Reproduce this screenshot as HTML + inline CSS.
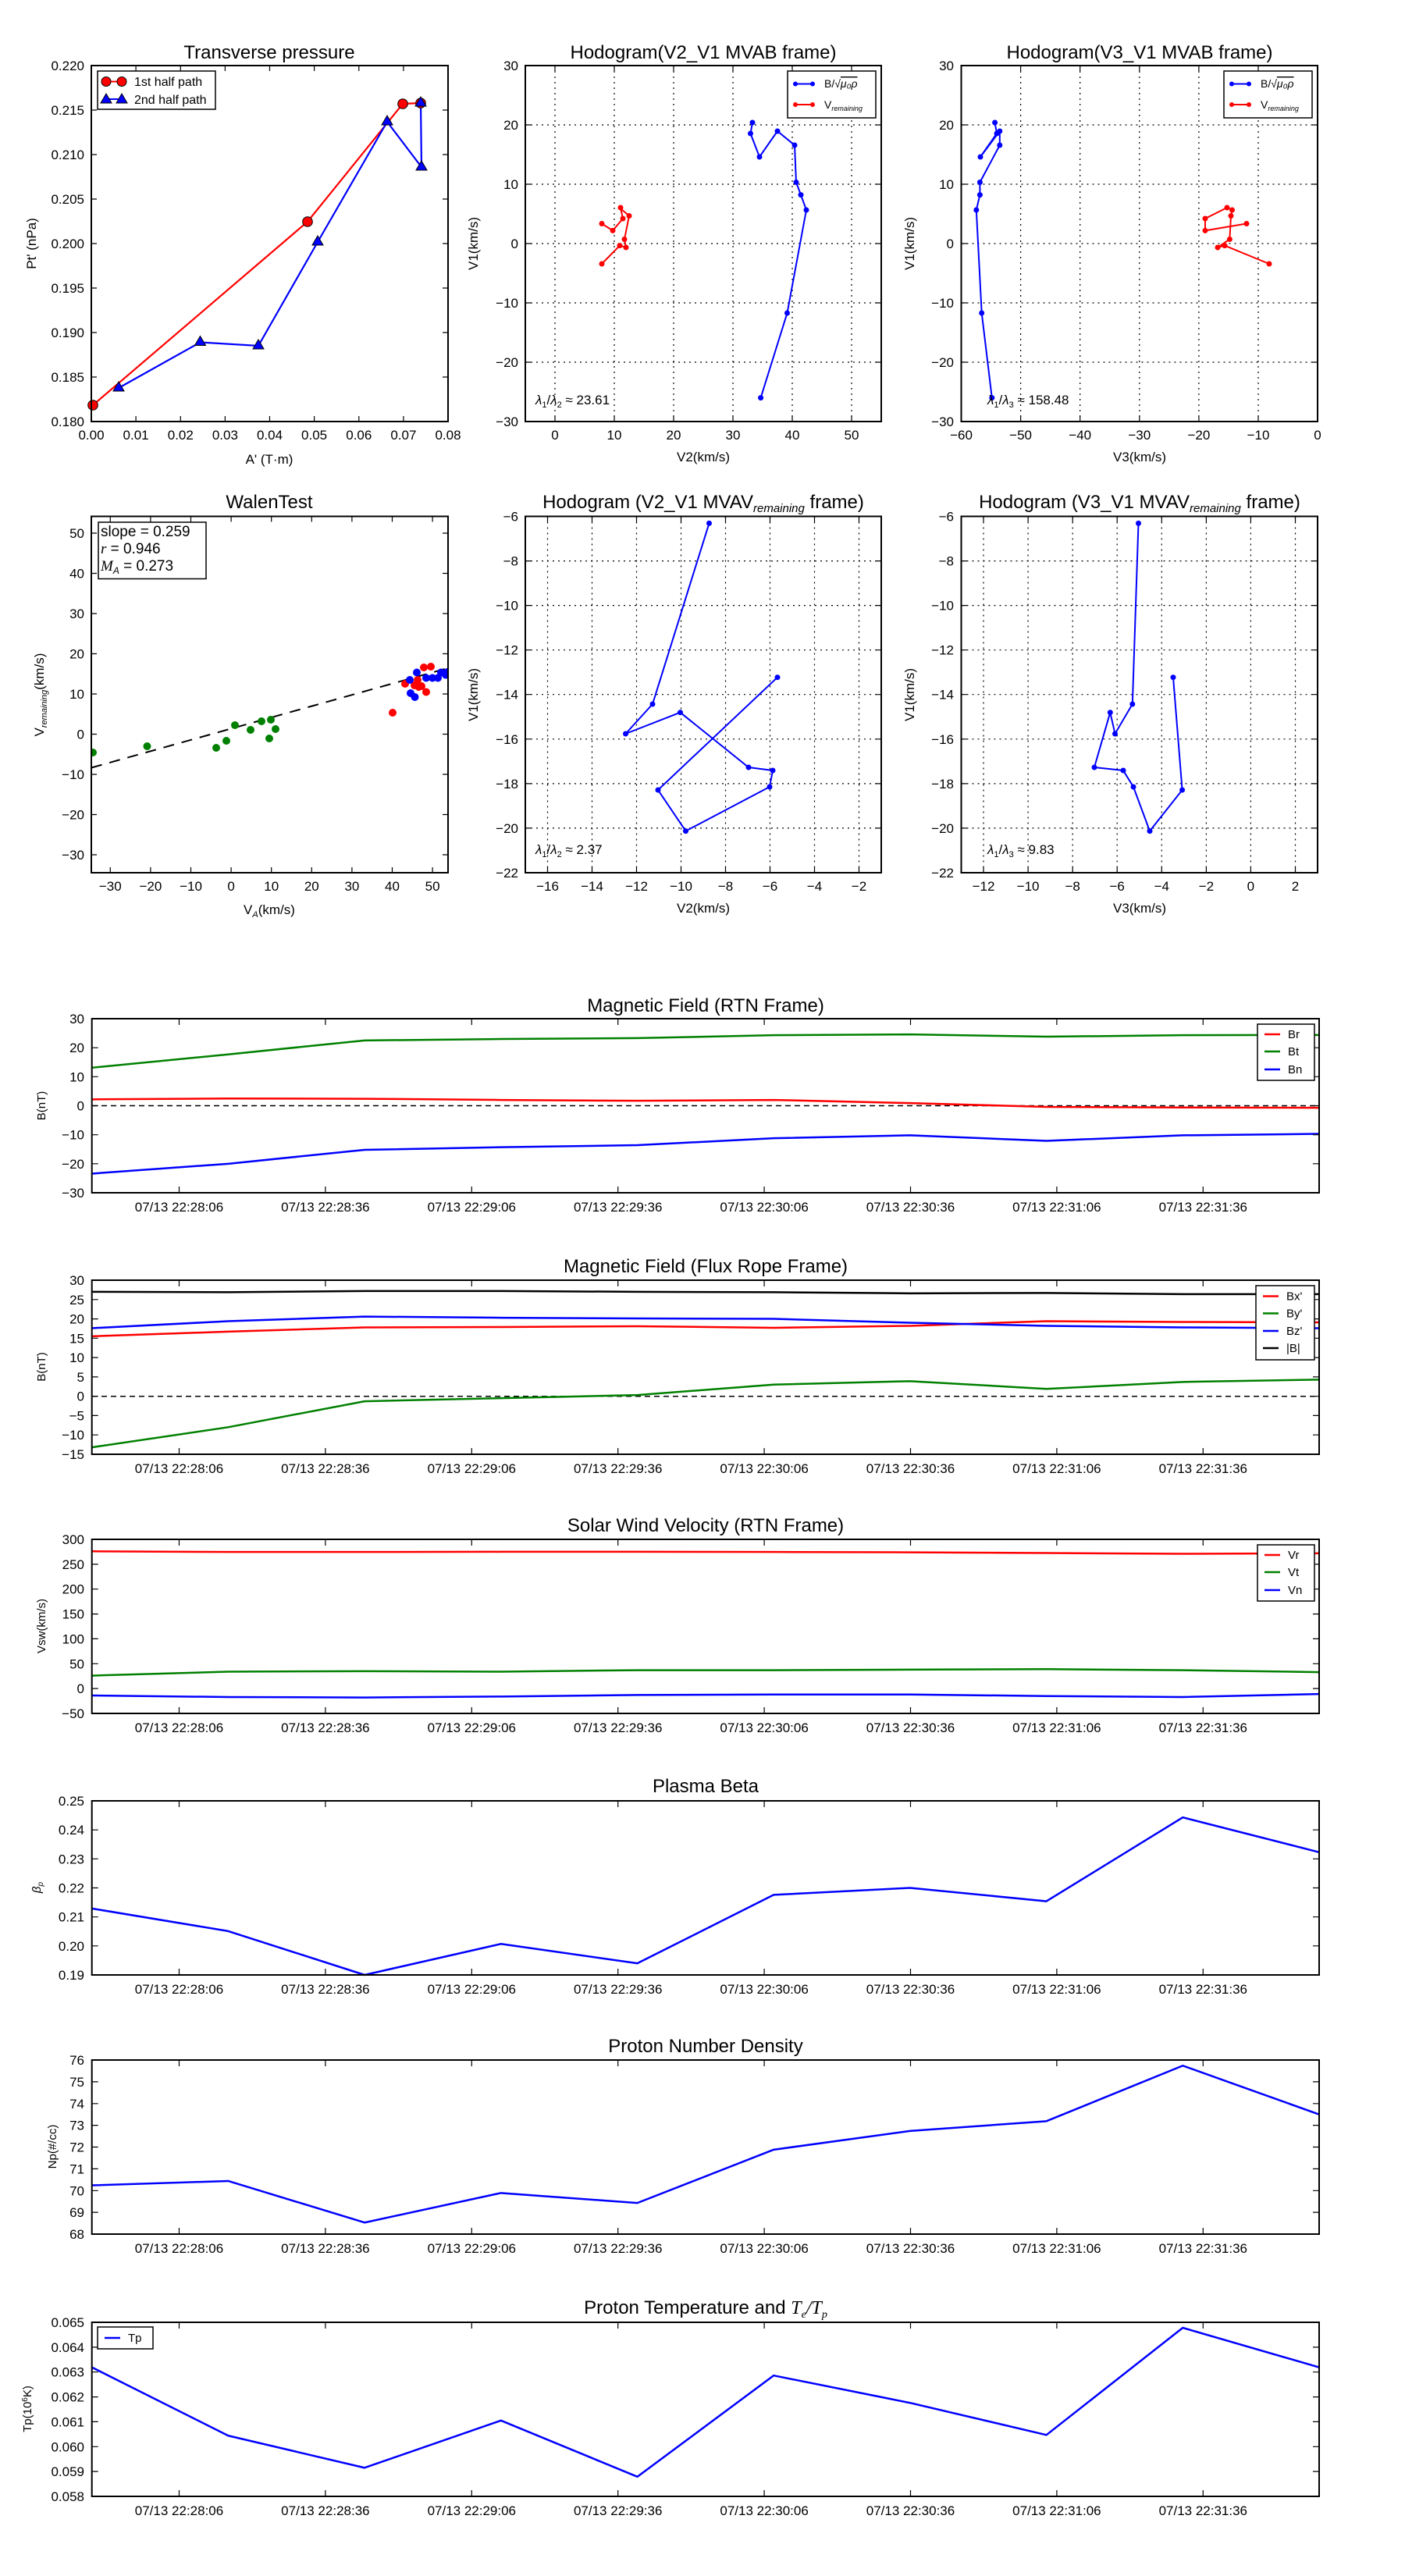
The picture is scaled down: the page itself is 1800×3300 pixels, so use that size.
<!DOCTYPE html>
<html><head><meta charset="utf-8"><style>
html,body{margin:0;padding:0;background:#fff;}
svg{display:block;font-family:"Liberation Sans","DejaVu Sans",sans-serif;}
.t{font-size:17px;fill:#000}
.ti{font-size:24px;fill:#000}
.lb{font-size:17px;fill:#000}
.ax{fill:none;stroke:#000;stroke-width:2}
.tk{fill:none;stroke:#000;stroke-width:1.2}
.gr{fill:none;stroke:#000;stroke-width:1.2;stroke-dasharray:2,5}
.ln{fill:none;stroke-width:2.5;vector-effect:non-scaling-stroke;stroke-linejoin:round}
</style></head><body>
<svg width="1800" height="3300" viewBox="0 0 1800 3300" xmlns="http://www.w3.org/2000/svg">
<rect width="1800" height="3300" fill="#fff"/>

<!-- ============ Transverse pressure ============ -->
<text class="ti" x="345" y="75" text-anchor="middle">Transverse pressure</text>
<polyline points="119,519 394,284 516,133 539,132" fill="none" stroke="#f00" stroke-width="2.2"/>
<polyline points="152,497 256.5,438.5 331,443 407,310 496,156 540,214 539,132" fill="none" stroke="#00f" stroke-width="2.2"/>
<g fill="#f00" stroke="#000" stroke-width="1">
<circle cx="119" cy="519" r="6.3"/><circle cx="394" cy="284" r="6.3"/><circle cx="516" cy="133" r="6.3"/><circle cx="539" cy="132" r="6.3"/>
</g>
<g fill="#00f" stroke="#000" stroke-width="1">
<path d="M152 489l7 12h-14z"/><path d="M256.5 430.5l7 12h-14z"/><path d="M331 435l7 12h-14z"/><path d="M407 302l7 12h-14z"/><path d="M496 148l7 12h-14z"/><path d="M540 206l7 12h-14z"/><path d="M539 124l7 12h-14z"/>
</g>
<rect class="ax" x="117" y="84" width="457" height="456"/>
<path class="tk" d="M174.1 540v-7M231.3 540v-7M288.4 540v-7M345.5 540v-7M402.6 540v-7M459.8 540v-7M516.9 540v-7M174.1 84v7M231.3 84v7M288.4 84v7M345.5 84v7M402.6 84v7M459.8 84v7M516.9 84v7M117 483h7M117 426h7M117 369h7M117 312h7M117 255h7M117 198h7M117 141h7M574 483h-7M574 426h-7M574 369h-7M574 312h-7M574 255h-7M574 198h-7M574 141h-7"/>
<g class="t" text-anchor="end">
<text x="108" y="546">0.180</text><text x="108" y="489">0.185</text><text x="108" y="432">0.190</text><text x="108" y="375">0.195</text><text x="108" y="318">0.200</text><text x="108" y="261">0.205</text><text x="108" y="204">0.210</text><text x="108" y="147">0.215</text><text x="108" y="90">0.220</text>
</g>
<g class="t" text-anchor="middle">
<text x="117" y="563">0.00</text><text x="174.1" y="563">0.01</text><text x="231.3" y="563">0.02</text><text x="288.4" y="563">0.03</text><text x="345.5" y="563">0.04</text><text x="402.6" y="563">0.05</text><text x="459.8" y="563">0.06</text><text x="516.9" y="563">0.07</text><text x="574" y="563">0.08</text>
</g>
<text class="lb" x="345" y="594" text-anchor="middle">A' (T·m)</text>
<text class="lb" transform="translate(46,312) rotate(-90)" text-anchor="middle">Pt' (nPa)</text>
<rect x="125" y="91" width="151" height="49" fill="#fff" stroke="#000" stroke-width="1.5"/>
<line x1="136" y1="104.5" x2="156" y2="104.5" stroke="#f00" stroke-width="2"/>
<circle cx="136" cy="104.5" r="6" fill="#f00" stroke="#000"/><circle cx="156" cy="104.5" r="6" fill="#f00" stroke="#000"/>
<line x1="136" y1="127" x2="156" y2="127" stroke="#00f" stroke-width="2"/>
<path d="M136 120l7 12h-14z M156 120l7 12h-14z" fill="#00f" stroke="#000"/>
<text x="172" y="110" style="font-size:16px">1st half path</text>
<text x="172" y="133" style="font-size:16px">2nd half path</text>

<!-- ============ Hodogram V2_V1 MVAB ============ -->
<text class="ti" x="901" y="75" text-anchor="middle">Hodogram(V2_V1 MVAB frame)</text>
<path class="gr" d="M711 84V540M787 84V540M863 84V540M939 84V540M1015 84V540M1091 84V540M673 160H1129M673 236H1129M673 312H1129M673 388H1129M673 464H1129"/>
<polyline points="964,157 961.5,171 973,201 996,168 1018,186 1020,233.5 1026,249.6 1033,269 1008.5,401 974.6,509.6" fill="none" stroke="#00f" stroke-width="2"/>
<g fill="#00f"><circle cx="964" cy="157" r="3.5"/><circle cx="961.5" cy="171" r="3.5"/><circle cx="973" cy="201" r="3.5"/><circle cx="996" cy="168" r="3.5"/><circle cx="1018" cy="186" r="3.5"/><circle cx="1020" cy="233.5" r="3.5"/><circle cx="1026" cy="249.6" r="3.5"/><circle cx="1033" cy="269" r="3.5"/><circle cx="1008.5" cy="401" r="3.5"/><circle cx="974.6" cy="509.6" r="3.5"/></g>
<polyline points="771,286.5 785,295.4 798,280 795,266 796,268 806,276.5 800,306.5 802,317 794,314.6 771,338" fill="none" stroke="#f00" stroke-width="2"/>
<g fill="#f00"><circle cx="771" cy="286.5" r="3.5"/><circle cx="785" cy="295.4" r="3.5"/><circle cx="798" cy="280" r="3.5"/><circle cx="795" cy="266" r="3.5"/><circle cx="806" cy="276.5" r="3.5"/><circle cx="800" cy="306.5" r="3.5"/><circle cx="802" cy="317" r="3.5"/><circle cx="794" cy="314.6" r="3.5"/><circle cx="771" cy="338" r="3.5"/></g>
<rect class="ax" x="673" y="84" width="456" height="456"/>
<path class="tk" d="M711 540v-7M787 540v-7M863 540v-7M939 540v-7M1015 540v-7M1091 540v-7M711 84v7M787 84v7M863 84v7M939 84v7M1015 84v7M1091 84v7M673 160h7M673 236h7M673 312h7M673 388h7M673 464h7M1129 160h-7M1129 236h-7M1129 312h-7M1129 388h-7M1129 464h-7"/>
<g class="t" text-anchor="end"><text x="664" y="90">30</text><text x="664" y="166">20</text><text x="664" y="242">10</text><text x="664" y="318">0</text><text x="664" y="394">−10</text><text x="664" y="470">−20</text><text x="664" y="546">−30</text></g>
<g class="t" text-anchor="middle"><text x="711" y="563">0</text><text x="787" y="563">10</text><text x="863" y="563">20</text><text x="939" y="563">30</text><text x="1015" y="563">40</text><text x="1091" y="563">50</text></g>
<text class="lb" x="901" y="591" text-anchor="middle">V2(km/s)</text>
<text class="lb" transform="translate(612,312) rotate(-90)" text-anchor="middle">V1(km/s)</text>
<text x="686" y="518" style="font-size:17px"><tspan font-style="italic">λ</tspan><tspan font-size="11" dy="4">1</tspan><tspan dy="-4">/</tspan><tspan font-style="italic">λ</tspan><tspan font-size="11" dy="4">2</tspan><tspan dy="-4"> ≈ 23.61</tspan></text>
<rect x="1009" y="91" width="113" height="60" fill="#fff" stroke="#000" stroke-width="1.5"/>
<line x1="1019" y1="107.5" x2="1041" y2="107.5" stroke="#00f" stroke-width="2"/><circle cx="1019" cy="107.5" r="3" fill="#00f"/><circle cx="1041" cy="107.5" r="3" fill="#00f"/>
<line x1="1019" y1="134" x2="1041" y2="134" stroke="#f00" stroke-width="2"/><circle cx="1019" cy="134" r="3" fill="#f00"/><circle cx="1041" cy="134" r="3" fill="#f00"/>
<text x="1056" y="112" style="font-size:14px">B/√<tspan font-style="italic" text-decoration="overline">μ₀ρ</tspan></text>
<text x="1056" y="139" style="font-size:14px">V<tspan font-size="9" font-style="italic" dy="3">remaining</tspan></text>

<!-- ============ Hodogram V3_V1 MVAB ============ -->
<text class="ti" x="1460" y="75" text-anchor="middle">Hodogram(V3_V1 MVAB frame)</text>
<path class="gr" d="M1307.6 84V540M1383.7 84V540M1459.8 84V540M1535.9 84V540M1612 84V540M1231.5 160H1688M1231.5 236H1688M1231.5 312H1688M1231.5 388H1688M1231.5 464H1688"/>
<polyline points="1274.6,157 1277,171 1256,201 1280.8,168 1280.8,186 1255.4,233.5 1255.4,249.6 1250.8,269 1257.7,401 1270.8,509.6" fill="none" stroke="#00f" stroke-width="2"/>
<g fill="#00f"><circle cx="1274.6" cy="157" r="3.5"/><circle cx="1277" cy="171" r="3.5"/><circle cx="1256" cy="201" r="3.5"/><circle cx="1280.8" cy="168" r="3.5"/><circle cx="1280.8" cy="186" r="3.5"/><circle cx="1255.4" cy="233.5" r="3.5"/><circle cx="1255.4" cy="249.6" r="3.5"/><circle cx="1250.8" cy="269" r="3.5"/><circle cx="1257.7" cy="401" r="3.5"/><circle cx="1270.8" cy="509.6" r="3.5"/></g>
<polyline points="1597,286.5 1544,295.4 1544,280 1572,266 1578.5,269 1577,276.5 1575.4,306.5 1560,317 1569,314.6 1626,338" fill="none" stroke="#f00" stroke-width="2"/>
<g fill="#f00"><circle cx="1597" cy="286.5" r="3.5"/><circle cx="1544" cy="295.4" r="3.5"/><circle cx="1544" cy="280" r="3.5"/><circle cx="1572" cy="266" r="3.5"/><circle cx="1578.5" cy="269" r="3.5"/><circle cx="1577" cy="276.5" r="3.5"/><circle cx="1575.4" cy="306.5" r="3.5"/><circle cx="1560" cy="317" r="3.5"/><circle cx="1569" cy="314.6" r="3.5"/><circle cx="1626" cy="338" r="3.5"/></g>
<rect class="ax" x="1231.5" y="84" width="456.5" height="456"/>
<path class="tk" d="M1307.6 540v-7M1383.7 540v-7M1459.8 540v-7M1535.9 540v-7M1612 540v-7M1307.6 84v7M1383.7 84v7M1459.8 84v7M1535.9 84v7M1612 84v7M1231.5 160h7M1231.5 236h7M1231.5 312h7M1231.5 388h7M1231.5 464h7M1688 160h-7M1688 236h-7M1688 312h-7M1688 388h-7M1688 464h-7"/>
<g class="t" text-anchor="end"><text x="1222" y="90">30</text><text x="1222" y="166">20</text><text x="1222" y="242">10</text><text x="1222" y="318">0</text><text x="1222" y="394">−10</text><text x="1222" y="470">−20</text><text x="1222" y="546">−30</text></g>
<g class="t" text-anchor="middle"><text x="1231.5" y="563">−60</text><text x="1307.6" y="563">−50</text><text x="1383.7" y="563">−40</text><text x="1459.8" y="563">−30</text><text x="1535.9" y="563">−20</text><text x="1612" y="563">−10</text><text x="1688" y="563">0</text></g>
<text class="lb" x="1460" y="591" text-anchor="middle">V3(km/s)</text>
<text class="lb" transform="translate(1171,312) rotate(-90)" text-anchor="middle">V1(km/s)</text>
<text x="1265" y="518" style="font-size:17px"><tspan font-style="italic">λ</tspan><tspan font-size="11" dy="4">1</tspan><tspan dy="-4">/</tspan><tspan font-style="italic">λ</tspan><tspan font-size="11" dy="4">3</tspan><tspan dy="-4"> ≈ 158.48</tspan></text>
<rect x="1568" y="91" width="113" height="60" fill="#fff" stroke="#000" stroke-width="1.5"/>
<line x1="1578" y1="107.5" x2="1600" y2="107.5" stroke="#00f" stroke-width="2"/><circle cx="1578" cy="107.5" r="3" fill="#00f"/><circle cx="1600" cy="107.5" r="3" fill="#00f"/>
<line x1="1578" y1="134" x2="1600" y2="134" stroke="#f00" stroke-width="2"/><circle cx="1578" cy="134" r="3" fill="#f00"/><circle cx="1600" cy="134" r="3" fill="#f00"/>
<text x="1615" y="112" style="font-size:14px">B/√<tspan font-style="italic" text-decoration="overline">μ₀ρ</tspan></text>
<text x="1615" y="139" style="font-size:14px">V<tspan font-size="9" font-style="italic" dy="3">remaining</tspan></text>

<!-- ============ WalenTest ============ -->
<text class="ti" x="345" y="651" text-anchor="middle">WalenTest</text>
<line x1="117" y1="983.5" x2="574" y2="855.8" stroke="#000" stroke-width="2" stroke-dasharray="14,10"/>
<g fill="#008000"><circle cx="119" cy="964" r="5"/><circle cx="188.5" cy="956" r="5"/><circle cx="277" cy="958" r="5"/><circle cx="290" cy="949" r="5"/><circle cx="301" cy="929" r="5"/><circle cx="321" cy="935" r="5"/><circle cx="335" cy="924" r="5"/><circle cx="347" cy="922" r="5"/><circle cx="345" cy="946" r="5"/><circle cx="353" cy="934" r="5"/></g>
<g fill="#f00"><circle cx="503" cy="913" r="5"/><circle cx="519" cy="876" r="5"/><circle cx="543" cy="855" r="5"/><circle cx="552" cy="854" r="5"/><circle cx="535" cy="871" r="5"/><circle cx="531" cy="878" r="5"/><circle cx="540" cy="879" r="5"/><circle cx="546" cy="886.5" r="5"/><circle cx="536.5" cy="880" r="5"/></g>
<g fill="#00f"><circle cx="525" cy="871" r="5"/><circle cx="534" cy="861.5" r="5"/><circle cx="526" cy="888" r="5"/><circle cx="531.5" cy="893" r="5"/><circle cx="546" cy="868.5" r="5"/><circle cx="554" cy="868.5" r="5"/><circle cx="561" cy="868.5" r="5"/><circle cx="565" cy="861.5" r="5"/><circle cx="571" cy="864.6" r="5"/><circle cx="573" cy="861" r="5"/></g>
<rect x="110" y="655" width="6" height="470" fill="#fff"/><rect x="575" y="655" width="10" height="470" fill="#fff"/>
<rect class="ax" x="117" y="661.5" width="457" height="456.5"/>
<path class="tk" d="M141.3 1118v-7M192.9 1118v-7M244.5 1118v-7M296.1 1118v-7M347.7 1118v-7M399.3 1118v-7M450.9 1118v-7M502.5 1118v-7M554.1 1118v-7M141.3 661.5v7M192.9 661.5v7M244.5 661.5v7M296.1 661.5v7M347.7 661.5v7M399.3 661.5v7M450.9 661.5v7M502.5 661.5v7M554.1 661.5v7M117 683h7M117 734.5h7M117 786h7M117 837.5h7M117 889h7M117 940.5h7M117 992h7M117 1043.5h7M117 1095h7M574 683h-7M574 734.5h-7M574 786h-7M574 837.5h-7M574 889h-7M574 940.5h-7M574 992h-7M574 1043.5h-7M574 1095h-7"/>
<g class="t" text-anchor="end"><text x="108" y="689">50</text><text x="108" y="740.5">40</text><text x="108" y="792">30</text><text x="108" y="843.5">20</text><text x="108" y="895">10</text><text x="108" y="946.5">0</text><text x="108" y="998">−10</text><text x="108" y="1049.5">−20</text><text x="108" y="1101">−30</text></g>
<g class="t" text-anchor="middle"><text x="141.3" y="1141">−30</text><text x="192.9" y="1141">−20</text><text x="244.5" y="1141">−10</text><text x="296.1" y="1141">0</text><text x="347.7" y="1141">10</text><text x="399.3" y="1141">20</text><text x="450.9" y="1141">30</text><text x="502.5" y="1141">40</text><text x="554.1" y="1141">50</text></g>
<text class="lb" x="345" y="1171" text-anchor="middle">V<tspan font-size="11" font-style="italic" dy="4">A</tspan><tspan dy="-4">(km/s)</tspan></text>
<text class="lb" transform="translate(56,890) rotate(-90)" text-anchor="middle">V<tspan font-size="11" font-style="italic" dy="4">remaining</tspan><tspan dy="-4">(km/s)</tspan></text>
<rect x="126" y="669" width="138" height="72.5" fill="#fff" stroke="#000" stroke-width="1.5"/>
<text x="129" y="687" style="font-size:19px">slope = 0.259</text>
<text x="129" y="709" style="font-size:19px"><tspan font-style="italic" font-family="Liberation Serif">r</tspan> = 0.946</text>
<text x="129" y="731" style="font-size:19px"><tspan font-style="italic" font-family="Liberation Serif">M</tspan><tspan font-size="12" font-style="italic" dy="4">A</tspan><tspan dy="-4"> = 0.273</tspan></text>

<!-- ============ Hodogram V2_V1 MVAV ============ -->
<text class="ti" x="901" y="651" text-anchor="middle">Hodogram (V2_V1 MVAV<tspan font-size="15" font-style="italic" dy="5">remaining</tspan><tspan dy="-5"> frame)</tspan></text>
<path class="gr" d="M701.5 661.5V1118M758.5 661.5V1118M815.5 661.5V1118M872.5 661.5V1118M929.5 661.5V1118M986.5 661.5V1118M1043.5 661.5V1118M1100.5 661.5V1118M673 718.6H1129M673 775.6H1129M673 832.7H1129M673 889.7H1129M673 946.8H1129M673 1003.9H1129M673 1060.9H1129"/>
<polyline points="908.5,670.4 836,902 801.5,940 871.5,912.7 959,983 990,987 986,1008 878.5,1064.6 843,1012 996,867.7" fill="none" stroke="#00f" stroke-width="2"/>
<g fill="#00f"><circle cx="908.5" cy="670.4" r="3.5"/><circle cx="836" cy="902" r="3.5"/><circle cx="801.5" cy="940" r="3.5"/><circle cx="871.5" cy="912.7" r="3.5"/><circle cx="959" cy="983" r="3.5"/><circle cx="990" cy="987" r="3.5"/><circle cx="986" cy="1008" r="3.5"/><circle cx="878.5" cy="1064.6" r="3.5"/><circle cx="843" cy="1012" r="3.5"/><circle cx="996" cy="867.7" r="3.5"/></g>
<rect class="ax" x="673" y="661.5" width="456" height="456.5"/>
<path class="tk" d="M701.5 1118v-7M758.5 1118v-7M815.5 1118v-7M872.5 1118v-7M929.5 1118v-7M986.5 1118v-7M1043.5 1118v-7M1100.5 1118v-7M701.5 661.5v7M758.5 661.5v7M815.5 661.5v7M872.5 661.5v7M929.5 661.5v7M986.5 661.5v7M1043.5 661.5v7M1100.5 661.5v7M673 718.6h7M673 775.6h7M673 832.7h7M673 889.7h7M673 946.8h7M673 1003.9h7M673 1060.9h7M1129 718.6h-7M1129 775.6h-7M1129 832.7h-7M1129 889.7h-7M1129 946.8h-7M1129 1003.9h-7M1129 1060.9h-7"/>
<g class="t" text-anchor="end"><text x="664" y="667.5">−6</text><text x="664" y="724.6">−8</text><text x="664" y="781.6">−10</text><text x="664" y="838.7">−12</text><text x="664" y="895.7">−14</text><text x="664" y="952.8">−16</text><text x="664" y="1009.9">−18</text><text x="664" y="1066.9">−20</text><text x="664" y="1124">−22</text></g>
<g class="t" text-anchor="middle"><text x="701.5" y="1141">−16</text><text x="758.5" y="1141">−14</text><text x="815.5" y="1141">−12</text><text x="872.5" y="1141">−10</text><text x="929.5" y="1141">−8</text><text x="986.5" y="1141">−6</text><text x="1043.5" y="1141">−4</text><text x="1100.5" y="1141">−2</text></g>
<text class="lb" x="901" y="1169" text-anchor="middle">V2(km/s)</text>
<text class="lb" transform="translate(612,890) rotate(-90)" text-anchor="middle">V1(km/s)</text>
<text x="686" y="1094" style="font-size:17px"><tspan font-style="italic">λ</tspan><tspan font-size="11" dy="4">1</tspan><tspan dy="-4">/</tspan><tspan font-style="italic">λ</tspan><tspan font-size="11" dy="4">2</tspan><tspan dy="-4"> ≈ 2.37</tspan></text>

<!-- ============ Hodogram V3_V1 MVAV ============ -->
<text class="ti" x="1460" y="651" text-anchor="middle">Hodogram (V3_V1 MVAV<tspan font-size="15" font-style="italic" dy="5">remaining</tspan><tspan dy="-5"> frame)</tspan></text>
<path class="gr" d="M1260 661.5V1118M1317.1 661.5V1118M1374.2 661.5V1118M1431.2 661.5V1118M1488.3 661.5V1118M1545.4 661.5V1118M1602.4 661.5V1118M1659.5 661.5V1118M1231.5 718.6H1688M1231.5 775.6H1688M1231.5 832.7H1688M1231.5 889.7H1688M1231.5 946.8H1688M1231.5 1003.9H1688M1231.5 1060.9H1688"/>
<polyline points="1458.5,670.4 1450.8,902 1428.5,940 1422.3,912.7 1402,983 1439,987 1452,1008 1473,1064.6 1514.6,1012 1503,867.7" fill="none" stroke="#00f" stroke-width="2"/>
<g fill="#00f"><circle cx="1458.5" cy="670.4" r="3.5"/><circle cx="1450.8" cy="902" r="3.5"/><circle cx="1428.5" cy="940" r="3.5"/><circle cx="1422.3" cy="912.7" r="3.5"/><circle cx="1402" cy="983" r="3.5"/><circle cx="1439" cy="987" r="3.5"/><circle cx="1452" cy="1008" r="3.5"/><circle cx="1473" cy="1064.6" r="3.5"/><circle cx="1514.6" cy="1012" r="3.5"/><circle cx="1503" cy="867.7" r="3.5"/></g>
<rect class="ax" x="1231.5" y="661.5" width="456.5" height="456.5"/>
<path class="tk" d="M1260 1118v-7M1317.1 1118v-7M1374.2 1118v-7M1431.2 1118v-7M1488.3 1118v-7M1545.4 1118v-7M1602.4 1118v-7M1659.5 1118v-7M1260 661.5v7M1317.1 661.5v7M1374.2 661.5v7M1431.2 661.5v7M1488.3 661.5v7M1545.4 661.5v7M1602.4 661.5v7M1659.5 661.5v7M1231.5 718.6h7M1231.5 775.6h7M1231.5 832.7h7M1231.5 889.7h7M1231.5 946.8h7M1231.5 1003.9h7M1231.5 1060.9h7M1688 718.6h-7M1688 775.6h-7M1688 832.7h-7M1688 889.7h-7M1688 946.8h-7M1688 1003.9h-7M1688 1060.9h-7"/>
<g class="t" text-anchor="end"><text x="1222" y="667.5">−6</text><text x="1222" y="724.6">−8</text><text x="1222" y="781.6">−10</text><text x="1222" y="838.7">−12</text><text x="1222" y="895.7">−14</text><text x="1222" y="952.8">−16</text><text x="1222" y="1009.9">−18</text><text x="1222" y="1066.9">−20</text><text x="1222" y="1124">−22</text></g>
<g class="t" text-anchor="middle"><text x="1260" y="1141">−12</text><text x="1317.1" y="1141">−10</text><text x="1374.2" y="1141">−8</text><text x="1431.2" y="1141">−6</text><text x="1488.3" y="1141">−4</text><text x="1545.4" y="1141">−2</text><text x="1602.4" y="1141">0</text><text x="1659.5" y="1141">2</text></g>
<text class="lb" x="1460" y="1169" text-anchor="middle">V3(km/s)</text>
<text class="lb" transform="translate(1171,890) rotate(-90)" text-anchor="middle">V1(km/s)</text>
<text x="1265" y="1094" style="font-size:17px"><tspan font-style="italic">λ</tspan><tspan font-size="11" dy="4">1</tspan><tspan dy="-4">/</tspan><tspan font-style="italic">λ</tspan><tspan font-size="11" dy="4">3</tspan><tspan dy="-4"> ≈ 9.83</tspan></text>

<!-- ============ Time series common x ticks defs ============ -->
<defs>
<path id="xt" class="tk" d="M229.5 0v-8M416.9 0v-8M604.3 0v-8M791.7 0v-8M979.1 0v-8M1166.5 0v-8M1353.9 0v-8M1541.3 0v-8"/>
<path id="xtt" class="tk" d="M229.5 0v8M416.9 0v8M604.3 0v8M791.7 0v8M979.1 0v8M1166.5 0v8M1353.9 0v8M1541.3 0v8"/>
<g id="xl" class="t" text-anchor="middle">
<text x="229.5" y="0">07/13 22:28:06</text><text x="416.9" y="0">07/13 22:28:36</text><text x="604.3" y="0">07/13 22:29:06</text><text x="791.7" y="0">07/13 22:29:36</text><text x="979.1" y="0">07/13 22:30:06</text><text x="1166.5" y="0">07/13 22:30:36</text><text x="1353.9" y="0">07/13 22:31:06</text><text x="1541.3" y="0">07/13 22:31:36</text>
</g>
</defs>

<!-- Panel 1: Magnetic Field RTN -->
<text class="ti" x="904" y="1296" text-anchor="middle">Magnetic Field (RTN Frame)</text>
<line x1="118" y1="1416.5" x2="1690" y2="1416.5" stroke="#000" stroke-width="1.5" stroke-dasharray="7,5"/>
<g transform="translate(117.7,1305) scale(174.7,-3.7167) translate(0,-30)">
<polyline class="ln" stroke="#008000" points="0,13.1 1,17.7 2,22.5 3,23.0 4,23.3 5,24.3 6,24.6 7,23.8 8,24.3 9,24.4"/>
<polyline class="ln" stroke="#f00" points="0,2.2 1,2.5 2,2.4 3,2.0 4,1.7 5,2.0 6,0.9 7,-0.4 8,-0.6 9,-0.7"/>
<polyline class="ln" stroke="#00f" points="0,-23.4 1,-20.0 2,-15.2 3,-14.3 4,-13.6 5,-11.2 6,-10.2 7,-12.1 8,-10.2 9,-9.7"/>
</g>
<rect class="ax" x="117.7" y="1305" width="1572.3" height="223"/>
<use href="#xt" y="1528"/><use href="#xtt" y="1305"/>
<path class="tk" d="M117.7 1342.2h8M117.7 1379.3h8M117.7 1416.5h8M117.7 1453.7h8M117.7 1490.8h8M1690 1342.2h-8M1690 1379.3h-8M1690 1416.5h-8M1690 1453.7h-8M1690 1490.8h-8"/>
<g class="t" text-anchor="end"><text x="108" y="1311">30</text><text x="108" y="1348.2">20</text><text x="108" y="1385.3">10</text><text x="108" y="1422.5">0</text><text x="108" y="1459.7">−10</text><text x="108" y="1496.8">−20</text><text x="108" y="1534">−30</text></g>
<use href="#xl" y="1552"/>
<text transform="translate(58,1416.5) rotate(-90)" text-anchor="middle" style="font-size:15px">B(nT)</text>
<rect x="1611" y="1312" width="73" height="72" fill="#fff" stroke="#000" stroke-width="1.5"/>
<line x1="1620" y1="1325" x2="1640" y2="1325" stroke="#f00" stroke-width="2.5"/><text x="1650" y="1330" style="font-size:15px">Br</text>
<line x1="1620" y1="1347" x2="1640" y2="1347" stroke="#008000" stroke-width="2.5"/><text x="1650" y="1352" style="font-size:15px">Bt</text>
<line x1="1620" y1="1370" x2="1640" y2="1370" stroke="#00f" stroke-width="2.5"/><text x="1650" y="1375" style="font-size:15px">Bn</text>

<!-- Panel 2: Flux Rope Frame -->
<text class="ti" x="904" y="1630" text-anchor="middle">Magnetic Field (Flux Rope Frame)</text>
<line x1="118" y1="1788.7" x2="1690" y2="1788.7" stroke="#000" stroke-width="1.5" stroke-dasharray="7,5"/>
<g transform="translate(117.7,1640) scale(174.7,-4.9556) translate(0,-30)">
<polyline class="ln" stroke="#000" points="0,27.0 1,26.9 2,27.2 3,27.2 4,27.0 5,26.9 6,26.6 7,26.7 8,26.4 9,26.4"/>
<polyline class="ln" stroke="#f00" points="0,15.5 1,16.7 2,17.8 3,17.9 4,18.1 5,17.7 6,18.2 7,19.4 8,19.2 9,19.1"/>
<polyline class="ln" stroke="#00f" points="0,17.6 1,19.4 2,20.6 3,20.3 4,20.1 5,20.0 6,19.0 7,18.2 8,17.8 9,17.6"/>
<polyline class="ln" stroke="#008000" points="0,-13.2 1,-8.0 2,-1.3 3,-0.5 4,0.3 5,3.0 6,3.9 7,1.9 8,3.7 9,4.3"/>
</g>
<rect class="ax" x="117.7" y="1640" width="1572.3" height="223"/>
<use href="#xt" y="1863"/><use href="#xtt" y="1640"/>
<path class="tk" d="M117.7 1664.8h8M117.7 1689.6h8M117.7 1714.3h8M117.7 1739.1h8M117.7 1763.9h8M117.7 1788.7h8M117.7 1813.4h8M117.7 1838.2h8M1690 1664.8h-8M1690 1689.6h-8M1690 1714.3h-8M1690 1739.1h-8M1690 1763.9h-8M1690 1788.7h-8M1690 1813.4h-8M1690 1838.2h-8"/>
<g class="t" text-anchor="end"><text x="108" y="1646">30</text><text x="108" y="1670.8">25</text><text x="108" y="1695.6">20</text><text x="108" y="1720.3">15</text><text x="108" y="1745.1">10</text><text x="108" y="1769.9">5</text><text x="108" y="1794.7">0</text><text x="108" y="1819.4">−5</text><text x="108" y="1844.2">−10</text><text x="108" y="1869">−15</text></g>
<use href="#xl" y="1887"/>
<text transform="translate(58,1751) rotate(-90)" text-anchor="middle" style="font-size:15px">B(nT)</text>
<rect x="1609" y="1647" width="75" height="95" fill="#fff" stroke="#000" stroke-width="1.5"/>
<line x1="1618" y1="1660.5" x2="1638" y2="1660.5" stroke="#f00" stroke-width="2.5"/><text x="1648" y="1665.5" style="font-size:15px">Bx'</text>
<line x1="1618" y1="1682.5" x2="1638" y2="1682.5" stroke="#008000" stroke-width="2.5"/><text x="1648" y="1687.5" style="font-size:15px">By'</text>
<line x1="1618" y1="1705" x2="1638" y2="1705" stroke="#00f" stroke-width="2.5"/><text x="1648" y="1710" style="font-size:15px">Bz'</text>
<line x1="1618" y1="1727" x2="1638" y2="1727" stroke="#000" stroke-width="2.5"/><text x="1648" y="1732" style="font-size:15px">|B|</text>

<!-- Panel 3: Solar Wind Velocity -->
<text class="ti" x="904" y="1962" text-anchor="middle">Solar Wind Velocity (RTN Frame)</text>
<g transform="translate(117.7,1972) scale(174.7,-0.63714) translate(0,-300)">
<polyline class="ln" stroke="#f00" points="0,276 1,274.6 2,274.6 3,275 4,275 5,274.6 6,274 7,272.5 8,271 9,272"/>
<polyline class="ln" stroke="#008000" points="0,26 1,34 2,35 3,34 4,37 5,37 6,38 7,39 8,37 9,33"/>
<polyline class="ln" stroke="#00f" points="0,-14 1,-17 2,-18 3,-16 4,-13 5,-12 6,-12 7,-15 8,-17 9,-11"/>
</g>
<rect class="ax" x="117.7" y="1972" width="1572.3" height="223"/>
<use href="#xt" y="2195"/><use href="#xtt" y="1972"/>
<path class="tk" d="M117.7 2003.9h8M117.7 2035.7h8M117.7 2067.6h8M117.7 2099.4h8M117.7 2131.3h8M117.7 2163.1h8M1690 2003.9h-8M1690 2035.7h-8M1690 2067.6h-8M1690 2099.4h-8M1690 2131.3h-8M1690 2163.1h-8"/>
<g class="t" text-anchor="end"><text x="108" y="1978">300</text><text x="108" y="2009.9">250</text><text x="108" y="2041.7">200</text><text x="108" y="2073.6">150</text><text x="108" y="2105.4">100</text><text x="108" y="2137.3">50</text><text x="108" y="2169.1">0</text><text x="108" y="2201">−50</text></g>
<use href="#xl" y="2219"/>
<text transform="translate(58,2083) rotate(-90)" text-anchor="middle" style="font-size:15px">Vsw(km/s)</text>
<rect x="1611" y="1979" width="73" height="72" fill="#fff" stroke="#000" stroke-width="1.5"/>
<line x1="1620" y1="1992" x2="1640" y2="1992" stroke="#f00" stroke-width="2.5"/><text x="1650" y="1997" style="font-size:15px">Vr</text>
<line x1="1620" y1="2014" x2="1640" y2="2014" stroke="#008000" stroke-width="2.5"/><text x="1650" y="2019" style="font-size:15px">Vt</text>
<line x1="1620" y1="2037" x2="1640" y2="2037" stroke="#00f" stroke-width="2.5"/><text x="1650" y="2042" style="font-size:15px">Vn</text>

<!-- Panel 4: Plasma Beta -->
<text class="ti" x="904" y="2296" text-anchor="middle">Plasma Beta</text>
<g transform="translate(117.7,2307) scale(174.7,-3716.67) translate(0,-0.25)">
<polyline class="ln" stroke="#00f" points="0,0.2129 1,0.2051 2,0.1900 3,0.2007 4,0.1940 5,0.2176 6,0.2200 7,0.2154 8,0.2443 9,0.2323"/>
</g>
<rect class="ax" x="117.7" y="2307" width="1572.3" height="223"/>
<use href="#xt" y="2530"/><use href="#xtt" y="2307"/>
<path class="tk" d="M117.7 2344.2h8M117.7 2381.3h8M117.7 2418.5h8M117.7 2455.7h8M117.7 2492.8h8M1690 2344.2h-8M1690 2381.3h-8M1690 2418.5h-8M1690 2455.7h-8M1690 2492.8h-8"/>
<g class="t" text-anchor="end"><text x="108" y="2313">0.25</text><text x="108" y="2350.2">0.24</text><text x="108" y="2387.3">0.23</text><text x="108" y="2424.5">0.22</text><text x="108" y="2461.7">0.21</text><text x="108" y="2498.8">0.20</text><text x="108" y="2536">0.19</text></g>
<use href="#xl" y="2554"/>
<text transform="translate(52,2418) rotate(-90)" text-anchor="middle" style="font-size:15px;font-style:italic">β<tspan font-size="10" dy="3">p</tspan></text>

<!-- Panel 5: Proton Number Density -->
<text class="ti" x="904" y="2629" text-anchor="middle">Proton Number Density</text>
<g transform="translate(117.7,2639) scale(174.7,-27.875) translate(0,-76)">
<polyline class="ln" stroke="#00f" points="0,70.24 1,70.44 2,68.53 3,69.89 4,69.43 5,71.88 6,72.74 7,73.19 8,75.74 9,73.5"/>
</g>
<rect class="ax" x="117.7" y="2639" width="1572.3" height="223"/>
<use href="#xt" y="2862"/><use href="#xtt" y="2639"/>
<path class="tk" d="M117.7 2666.9h8M117.7 2694.8h8M117.7 2722.6h8M117.7 2750.5h8M117.7 2778.4h8M117.7 2806.3h8M117.7 2834.1h8M1690 2666.9h-8M1690 2694.8h-8M1690 2722.6h-8M1690 2750.5h-8M1690 2778.4h-8M1690 2806.3h-8M1690 2834.1h-8"/>
<g class="t" text-anchor="end"><text x="108" y="2645">76</text><text x="108" y="2672.9">75</text><text x="108" y="2700.8">74</text><text x="108" y="2728.6">73</text><text x="108" y="2756.5">72</text><text x="108" y="2784.4">71</text><text x="108" y="2812.3">70</text><text x="108" y="2840.1">69</text><text x="108" y="2868">68</text></g>
<use href="#xl" y="2886"/>
<text transform="translate(72,2750) rotate(-90)" text-anchor="middle" style="font-size:15px">Np(#/cc)</text>

<!-- Panel 6: Proton Temperature -->
<text class="ti" x="904" y="2964" text-anchor="middle">Proton Temperature and <tspan font-family="Liberation Serif" font-style="italic">T</tspan><tspan font-family="Liberation Serif" font-style="italic" font-size="14" dy="5">e</tspan><tspan font-family="Liberation Serif" font-style="italic" dy="-5">/T</tspan><tspan font-family="Liberation Serif" font-style="italic" font-size="14" dy="5">p</tspan></text>
<g transform="translate(117.7,2975) scale(174.7,-31857) translate(0,-0.065)">
<polyline class="ln" stroke="#00f" points="0,0.06319 1,0.06044 2,0.05915 3,0.06105 4,0.05879 5,0.06286 6,0.06176 7,0.06047 8,0.06478 9,0.06319"/>
</g>
<rect class="ax" x="117.7" y="2975" width="1572.3" height="223"/>
<use href="#xt" y="3198"/><use href="#xtt" y="2975"/>
<path class="tk" d="M117.7 3006.9h8M117.7 3038.7h8M117.7 3070.6h8M117.7 3102.4h8M117.7 3134.3h8M117.7 3166.1h8M1690 3006.9h-8M1690 3038.7h-8M1690 3070.6h-8M1690 3102.4h-8M1690 3134.3h-8M1690 3166.1h-8"/>
<g class="t" text-anchor="end"><text x="108" y="2981">0.065</text><text x="108" y="3012.9">0.064</text><text x="108" y="3044.7">0.063</text><text x="108" y="3076.6">0.062</text><text x="108" y="3108.4">0.061</text><text x="108" y="3140.3">0.060</text><text x="108" y="3172.1">0.059</text><text x="108" y="3204">0.058</text></g>
<use href="#xl" y="3222"/>
<text transform="translate(40,3086) rotate(-90)" text-anchor="middle" style="font-size:15px">Tp(10<tspan font-size="10" dy="-5">6</tspan><tspan dy="5">K)</tspan></text>
<rect x="125" y="2981" width="71" height="28" fill="#fff" stroke="#000" stroke-width="1.5"/>
<line x1="134" y1="2995" x2="154" y2="2995" stroke="#00f" stroke-width="2.5"/><text x="164" y="3000" style="font-size:15px">Tp</text>
</svg>
</body></html>
